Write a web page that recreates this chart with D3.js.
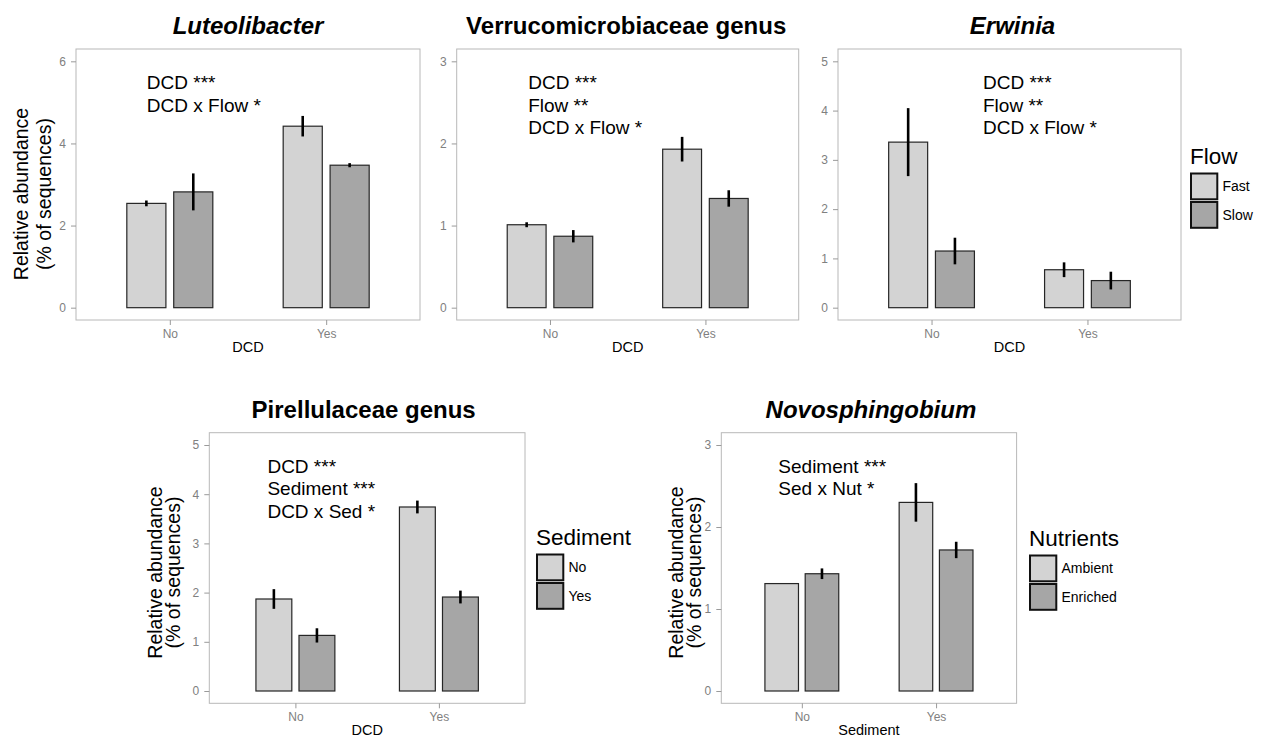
<!DOCTYPE html>
<html>
<head>
<meta charset="utf-8">
<script src="https://cdn.jsdelivr.net/npm/d3@7"></script>
<style>
  body { margin: 0; background: #fff; }
  svg { display: block; font-family: "Liberation Sans", Arial, Helvetica, sans-serif; }
</style>
</head>
<body>
<div id="chart"></div>
<script>

/**
 * Data
 */

const groups = ['No', 'Yes'];

const titles = ['Luteolibacter', 'Verrucomicrobiaceae genus', 'Erwinia', 'Pirellulaceae genus', 'Novosphingobium'];
const italicTitles = [true, false, true, false, true];
const xTitles = ['DCD', 'DCD', 'DCD', 'DCD', 'Sediment'];

const yTickValues = [
  [0, 2, 4, 6],
  [0, 1, 2, 3],
  [0, 1, 2, 3, 4, 5],
  [0, 1, 2, 3, 4, 5],
  [0, 1, 2, 3],
];

// means[group][series], series = first / second legend level
const luteoMean = [[2.54, 2.82], [4.42, 3.47]];
const luteoErr  = [[0.07, 0.45], [0.25, 0.05]];
const verruMean = [[1.01, 0.87], [1.93, 1.33]];
const verruErr  = [[0.03, 0.075], [0.15, 0.10]];
const erwMean   = [[3.36, 1.15], [0.77, 0.55]];
const erwErr    = [[0.69, 0.27], [0.15, 0.18]];
const pirMean   = [[1.87, 1.13], [3.74, 1.91]];
const pirErr    = [[0.20, 0.145], [0.13, 0.13]];
const novoMean  = [[1.31, 1.43], [2.30, 1.72]];
const novoErr   = [[0.00, 0.065], [0.235, 0.10]];

const luteoNotes = ['DCD ***', 'DCD x Flow *'];
const verruNotes = ['DCD ***', 'Flow **', 'DCD x Flow *'];
const erwNotes   = ['DCD ***', 'Flow **', 'DCD x Flow *'];
const pirNotes   = ['DCD ***', 'Sediment ***', 'DCD x Sed *'];
const novoNotes  = ['Sediment ***', 'Sed x Nut *'];

const flowLevels = ['Fast', 'Slow'];
const sedimentLevels = ['No', 'Yes'];
const nutrientLevels = ['Ambient', 'Enriched'];

const yTitle = ['Relative abundance', '(% of sequences)'];


/**
 * Layout
 */

const fills = ['#d3d3d3', '#a6a6a6'];

const panels = [
  { left: 76,    top: 49,    width: 344,   height: 271, yMax: 6, noteX: 0.853, titleDx: 0,
    mean: luteoMean, err: luteoErr, notes: luteoNotes, yLab: { l1: -48.5, l2: -25.5, cy: 194 } },
  { left: 456.7, top: 49,    width: 342,   height: 271, yMax: 3, noteX: 0.86, titleDx: -1.5,
    mean: verruMean, err: verruErr, notes: verruNotes },
  { left: 838,   top: 49,    width: 343,   height: 271, yMax: 5, noteX: 1.33, titleDx: 3,
    mean: erwMean, err: erwErr, notes: erwNotes,
    legend: { x: 1190, title: 'Flow', titleY: 164, levels: flowLevels } },
  { left: 209.3, top: 432.7, width: 315.7, height: 270.6, yMax: 5, noteX: 0.805, titleDx: -3.5,
    mean: pirMean, err: pirErr, notes: pirNotes, yLab: { l1: -47.6, l2: -29, cy: 572.5 },
    legend: { x: 536, title: 'Sediment', titleY: 545, levels: sedimentLevels } },
  { left: 721.3, top: 432.7, width: 295.3, height: 270.6, yMax: 3, noteX: 0.825, titleDx: 2,
    mean: novoMean, err: novoErr, notes: novoNotes, yLab: { l1: -38, l2: -20, cy: 572.5 },
    legend: { x: 1029, title: 'Nutrients', titleY: 546, levels: nutrientLevels } },
];

const svg = d3.select('#chart')
              .append('svg')
              .attr('width', 1262)
              .attr('height', 738);


/**
 * Draw one panel
 */

function drawPanel(p, i) {
  const bottom = p.top + p.height;

  const x = d3.scaleLinear()
              .domain([0.4, 2.6])
              .range([p.left, p.left + p.width]);

  const y = d3.scaleLinear()
              .domain([-0.05 * p.yMax, 1.05 * p.yMax])
              .range([bottom, p.top]);

  const g = svg.append('g');

  // panel border
  g.append('rect')
    .attr('x', p.left)
    .attr('y', p.top)
    .attr('width', p.width)
    .attr('height', p.height)
    .attr('fill', 'none')
    .attr('stroke', '#b8b8b8')
    .attr('stroke-width', 1);

  // axes
  const yAxis = g.append('g')
    .attr('transform', `translate(${p.left},0)`)
    .call(d3.axisLeft(y).tickValues(yTickValues[i]).tickFormat(d3.format('d')).tickSize(5).tickPadding(5));

  const xAxis = g.append('g')
    .attr('transform', `translate(0,${bottom})`)
    .call(d3.axisBottom(x).tickValues([1, 2]).tickFormat((d, k) => groups[k]).tickSize(5).tickPadding(4.5));

  [yAxis, xAxis].forEach(ax => {
    ax.attr('font-family', null).attr('font-size', 12);
    ax.select('.domain').remove();
    ax.selectAll('line').attr('stroke', '#9a9a9a');
    ax.selectAll('text').attr('fill', '#808080');
  });

  // bars
  const rows = [];
  p.mean.forEach((pair, gi) => {
    pair.forEach((m, si) => rows.push({ gi, si, mean: m, err: p.err[gi][si] }));
  });

  const center = d => d.gi + 1 + (d.si === 0 ? -0.15 : 0.15);
  const barW = x(0.65) - x(0.4);

  g.selectAll('rect.bar')
    .data(rows)
    .enter()
    .append('rect')
    .attr('class', 'bar')
    .attr('x', d => x(center(d)) - barW / 2)
    .attr('width', barW)
    .attr('y', d => y(d.mean))
    .attr('height', d => y(0) - y(d.mean))
    .attr('fill', d => fills[d.si])
    .attr('stroke', '#262626')
    .attr('stroke-width', 1.2);

  g.selectAll('line.err')
    .data(rows.filter(d => d.err > 0))
    .enter()
    .append('line')
    .attr('class', 'err')
    .attr('x1', d => x(center(d)))
    .attr('x2', d => x(center(d)))
    .attr('y1', d => y(d.mean - d.err))
    .attr('y2', d => y(d.mean + d.err))
    .attr('stroke', '#000')
    .attr('stroke-width', 2.6);

  // annotation
  g.selectAll('text.note')
    .data(p.notes)
    .enter()
    .append('text')
    .attr('class', 'note')
    .attr('x', x(p.noteX))
    .attr('y', (d, k) => p.top + 39.8 + k * 22.8)
    .attr('font-size', 19)
    .attr('fill', '#000')
    .text(d => d);

  // title
  g.append('text')
    .attr('x', p.left + p.width / 2 + p.titleDx)
    .attr('y', p.top - 15)
    .attr('text-anchor', 'middle')
    .attr('font-size', 24)
    .attr('font-weight', 'bold')
    .attr('font-style', italicTitles[i] ? 'italic' : 'normal')
    .text(titles[i]);

  // x title
  g.append('text')
    .attr('x', p.left + p.width / 2)
    .attr('y', bottom + 32)
    .attr('text-anchor', 'middle')
    .attr('font-size', 14.5)
    .text(xTitles[i]);

  // y title
  if (p.yLab) {
    [p.yLab.l1, p.yLab.l2].forEach((dx, k) => {
      g.append('text')
        .attr('transform', `translate(${p.left + dx},${p.yLab.cy}) rotate(-90)`)
        .attr('text-anchor', 'middle')
        .attr('font-size', 19.5)
        .text(yTitle[k]);
    });
  }

  // legend
  if (p.legend) {
    const lg = svg.append('g');
    const L = p.legend;

    lg.append('text')
      .attr('x', L.x)
      .attr('y', L.titleY)
      .attr('font-size', 22.5)
      .text(L.title);

    L.levels.forEach((lev, k) => {
      const ky = L.titleY + 8.5 + k * 28.5;
      lg.append('rect')
        .attr('x', L.x + 1)
        .attr('y', ky + 1)
        .attr('width', 26.3)
        .attr('height', 25.8)
        .attr('fill', fills[k])
        .attr('stroke', '#111')
        .attr('stroke-width', 2);
      lg.append('text')
        .attr('x', L.x + 32.5)
        .attr('y', ky + 13.9 + 5)
        .attr('font-size', 14)
        .text(lev);
    });
  }
}

panels.forEach(drawPanel);

</script>
</body>
</html>
